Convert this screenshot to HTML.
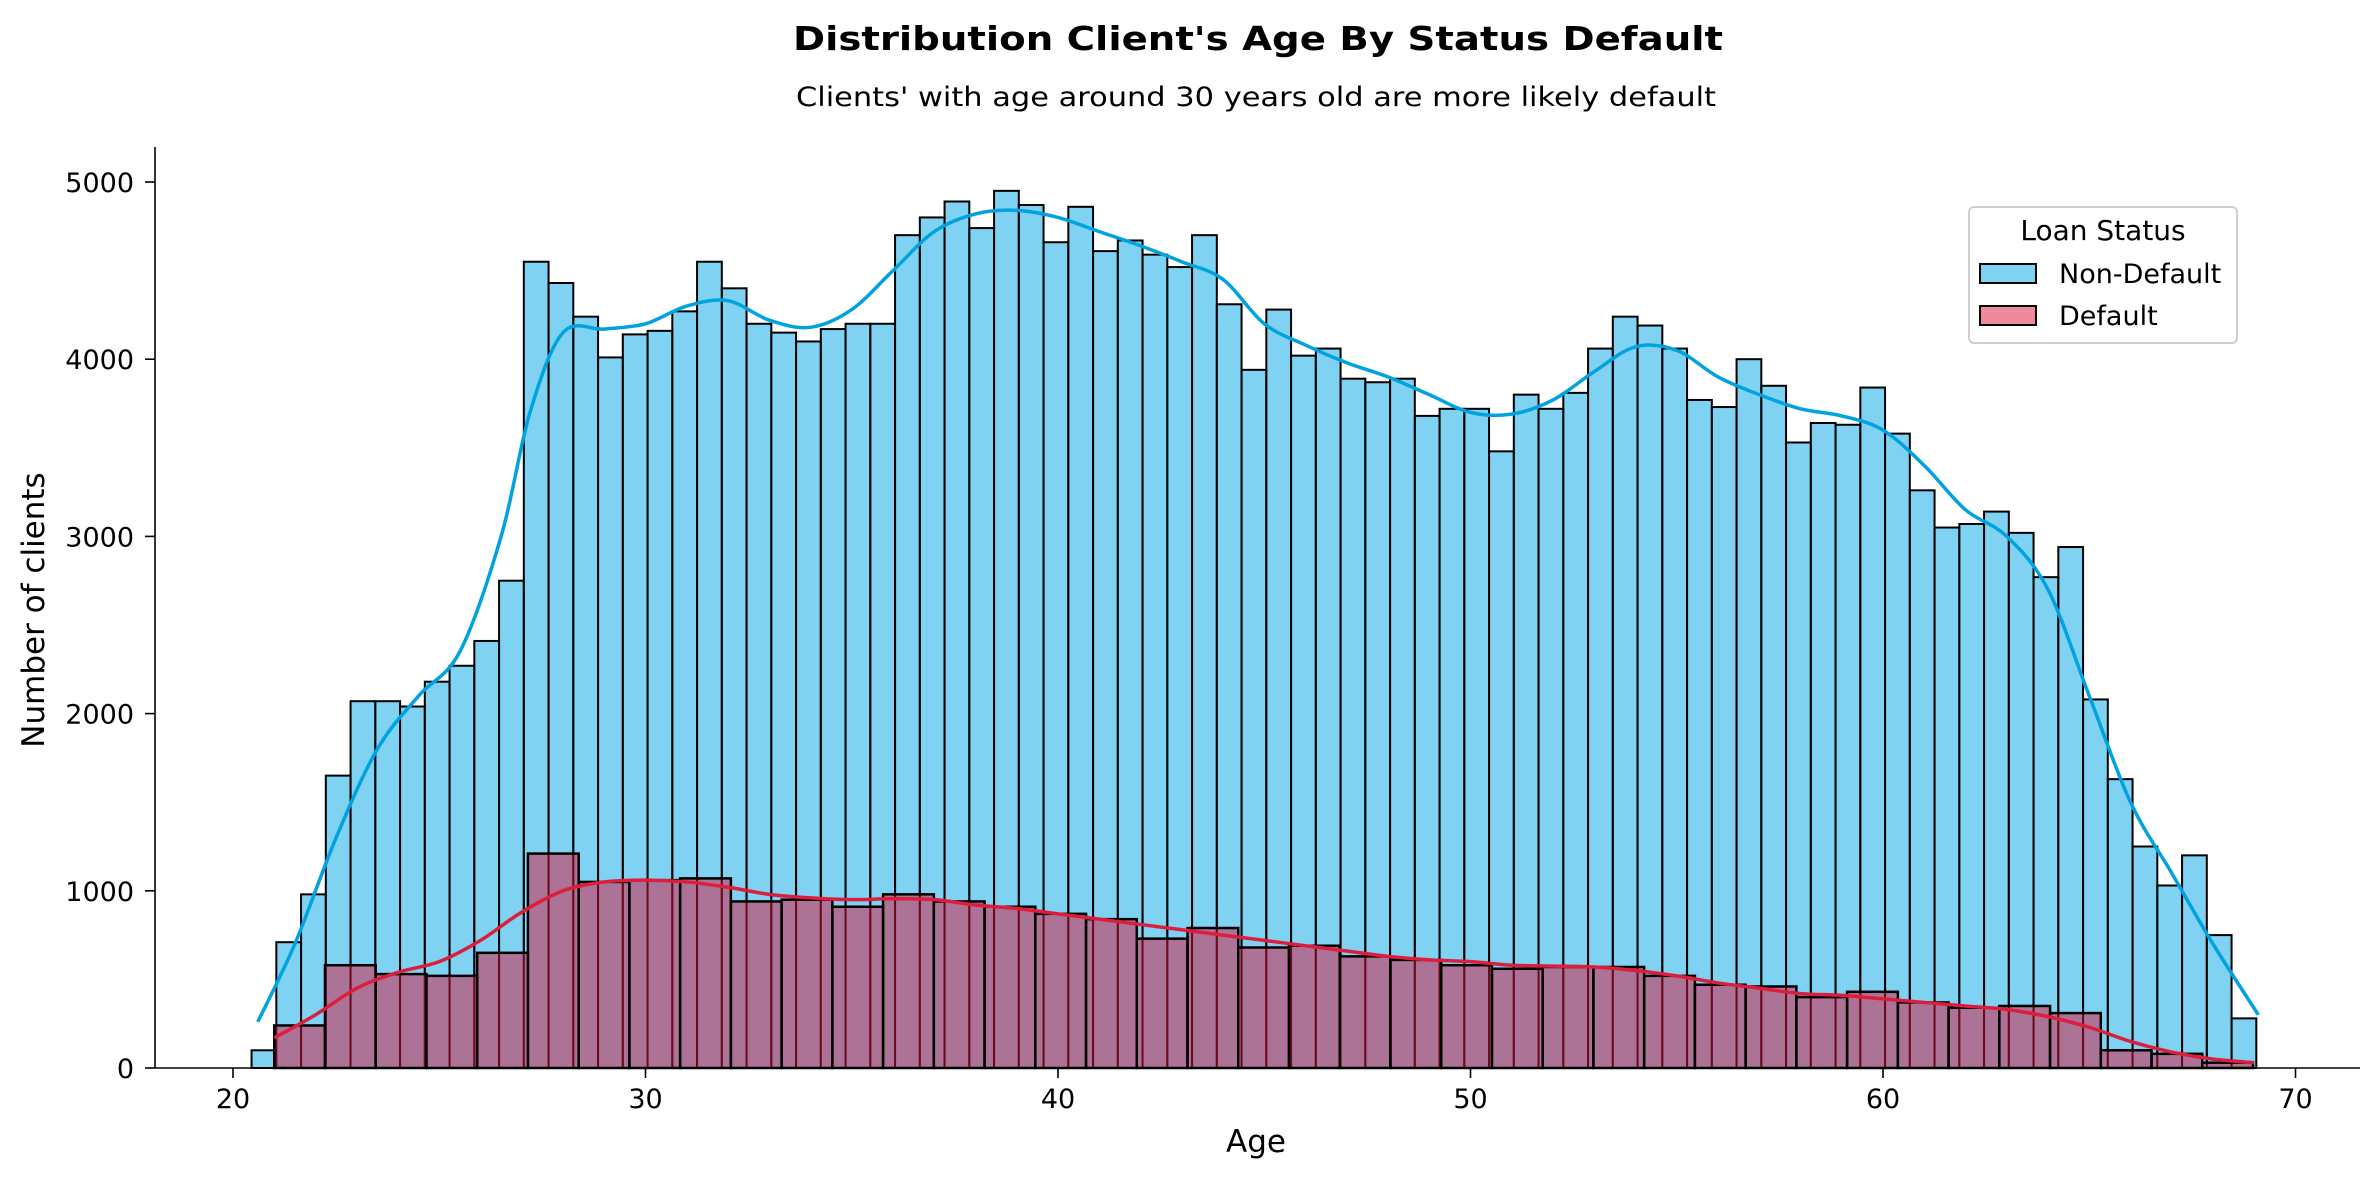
<!DOCTYPE html>
<html><head><meta charset="utf-8">
<style>
html,body{margin:0;padding:0;background:#fff;}
svg{display:block;font-family:"DejaVu Sans","Liberation Sans",sans-serif;}
</style></head>
<body>
<svg id="chart" width="2379" height="1180" viewBox="0 0 2379 1180" xmlns="http://www.w3.org/2000/svg">
<text x="1258" y="50" text-anchor="middle" font-size="33" font-weight="bold" textLength="930" lengthAdjust="spacingAndGlyphs">Distribution Client's Age By Status Default</text>
<text x="1256" y="106" text-anchor="middle" font-size="27" textLength="920" lengthAdjust="spacingAndGlyphs">Clients' with age around 30 years old are more likely default</text>
<g id="plot"></g>
<text transform="translate(44,610) rotate(-90)" text-anchor="middle" font-size="31">Number of clients</text>
<text x="1256" y="1152" text-anchor="middle" font-size="31">Age</text>
<g>
<rect x="1969" y="207" width="268" height="136" rx="5" fill="#fff" stroke="#d0d0d0" stroke-width="2"/>
<text x="2103" y="240" text-anchor="middle" font-size="28">Loan Status</text>
<rect x="1980" y="264" width="56" height="19" fill="#80d2f3" stroke="#000" stroke-width="2"/>
<text x="2059" y="283" font-size="27">Non-Default</text>
<rect x="1980" y="306" width="56" height="19" fill="#ed8a9d" stroke="#000" stroke-width="2"/>
<text x="2059" y="325" font-size="27">Default</text>
</g>
</svg>
<script>
const blueStart = 20.45, blueWidth = 0.6;
const blueCounts = [100,710,980,1650,2070,2070,2040,2180,2270,2410,2750,4550,4430,4240,4010,4140,4160,4270,4550,4400,4200,4150,4100,4170,4200,4200,4700,4800,4890,4740,4950,4870,4660,4860,4610,4670,4590,4520,4700,4310,3940,4280,4020,4060,3890,3870,3890,3680,3720,3720,3480,3800,3720,3810,4060,4240,4190,4060,3770,3730,4000,3850,3530,3640,3630,3840,3580,3260,3050,3070,3140,3020,2770,2940,2080,1630,1250,1030,1200,750,280];
const redStart = 21.0, redWidth = 1.23;
const redCounts = [240,580,530,520,650,1210,1050,1060,1070,940,950,910,980,940,910,870,840,730,790,680,690,630,610,580,560,570,570,520,470,460,400,430,370,340,350,310,100,80,30];
const blueKdeAge = [20.6,21.5,22.5,23.5,24.5,25.5,26.5,27.2,28,29,30,31,32,33,34,35,36,37,38,39,40,41,42,43,44,45,46,47,48,49,50,51,52,53,54,55,56,57,58,59,60,61,62,63,64,65,66,67,68,69.1];
const blueKdeVal = [260,700,1300,1800,2100,2350,3000,3700,4150,4170,4200,4300,4330,4220,4180,4280,4500,4720,4820,4840,4800,4720,4640,4550,4450,4200,4080,3980,3900,3800,3700,3690,3770,3930,4070,4050,3900,3800,3720,3680,3600,3400,3150,3000,2700,2100,1500,1100,700,300];
const redKdeAge = [21,22,23,24,25,26,27,28,29,30,31,32,33,34,35,36,37,38,39,40,41,42,43,44,45,46,47,48,49,50,51,52,53,54,55,56,57,58,59,60,61,62,63,64,65,66,67,68,69];
const redKdeVal = [170,300,450,540,600,720,880,1000,1050,1060,1050,1020,980,960,950,955,950,920,900,870,840,810,780,750,720,690,660,630,610,600,580,575,570,550,520,480,450,420,410,390,370,350,330,290,230,150,90,50,30];
const xTicks = [20,30,40,50,60,70];
const yTicks = [0,1000,2000,3000,4000,5000];

const NS = "http://www.w3.org/2000/svg";
const X = a => 233 + (a - 20) * 41.25;
const Y = v => 1068 - v * 0.1772;
const g = document.getElementById('plot');
function mk(tag, attrs){const e=document.createElementNS(NS,tag);for(const k in attrs)e.setAttribute(k,attrs[k]);g.appendChild(e);return e;}

blueCounts.forEach((c,i)=>{
  const x0=X(blueStart+i*blueWidth), x1=X(blueStart+(i+1)*blueWidth);
  const r=mk('rect',{x:x0,y:Y(c),width:x1-x0,height:Y(0)-Y(c),fill:'rgba(0,165,230,0.5)',stroke:'#000','stroke-width':2});
  
  
});
redCounts.forEach((c,i)=>{
  const x0=X(redStart+i*redWidth), x1=X(redStart+(i+1)*redWidth);
  const r=mk('rect',{x:x0,y:Y(c),width:x1-x0,height:Y(0)-Y(c),fill:'rgba(220,20,60,0.5)',stroke:'#000','stroke-width':2.5});
  
  
});
function smooth(ax, vals){
  const p=ax.map((a,i)=>[X(a),Y(vals[i])]);
  let d='M'+p[0][0]+','+p[0][1];
  for(let i=0;i<p.length-1;i++){
    const p0=p[i-1]||p[i],p1=p[i],p2=p[i+1],p3=p[i+2]||p2;
    const c1=[p1[0]+(p2[0]-p0[0])/6,p1[1]+(p2[1]-p0[1])/6];
    const c2=[p2[0]-(p3[0]-p1[0])/6,p2[1]-(p3[1]-p1[1])/6];
    d+=' C'+c1+' '+c2+' '+p2;
  }
  return d;
}
const kb=mk('path',{d:smooth(blueKdeAge,blueKdeVal),fill:'none',stroke:'#00a2e0','stroke-width':3.5});


const kr=mk('path',{d:smooth(redKdeAge,redKdeVal),fill:'none',stroke:'#dc1e3c','stroke-width':3.5});



const ya=mk('line',{x1:155,y1:147,x2:155,y2:1068,stroke:'#000','stroke-width':1.6});


const xa=mk('line',{x1:155,y1:1068,x2:2360,y2:1068,stroke:'#000','stroke-width':1.6});


yTicks.forEach(v=>{
  const t=mk('line',{x1:145,x2:155,y1:Y(v),y2:Y(v),stroke:'#000','stroke-width':1.6});
  
  
  const l=mk('text',{x:134,y:Y(v)+10,'text-anchor':'end','font-size':27});
  l.textContent=v;
  
  
});
xTicks.forEach(v=>{
  const t=mk('line',{x1:X(v),x2:X(v),y1:1068,y2:1078,stroke:'#000','stroke-width':1.6});
  
  
  const l=mk('text',{x:X(v),y:1108,'text-anchor':'middle','font-size':27});
  l.textContent=v;
  
  
});
</script>
</body></html>
